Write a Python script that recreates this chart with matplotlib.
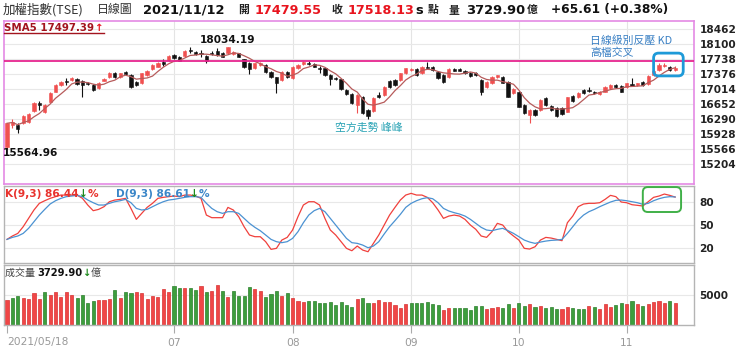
import matplotlib
matplotlib.use('Agg')
import matplotlib.pyplot as plt
import numpy as np
import pandas as pd
from matplotlib.patches import FancyBboxPatch
from matplotlib.transforms import IdentityTransform

# ==== daily TAIEX, 2021/05/18 - 2021/11/12 (125 sessions)
opens = [15624, 16147, 16147, 16187, 16227, 16493, 16669, 16468, 16710, 16951,
         17112, 17216, 17232, 17248, 17216, 17168, 17112, 17031, 17216, 17297,
         17393, 17297, 17433, 17353, 17192, 17152, 17353, 17489, 17554, 17674,
         17715, 17835, 17795, 17811, 17956, 17916, 17891, 17811, 17891, 17940,
         17891, 17875, 17859, 17875, 17731, 17650, 17514, 17594, 17594, 17433,
         17297, 17232, 17433, 17273, 17514, 17618, 17650, 17618, 17522, 17514,
         17353, 17288, 17248, 16991, 16895, 16629, 16830, 16509, 16492, 16870,
         16870, 17208, 17232, 17232, 17393, 17473, 17489, 17393, 17553, 17553,
         17433, 17352, 17312, 17489, 17489, 17457, 17409, 17393, 17232, 17071,
         17151, 17312, 17312, 17192, 16910, 16950, 16629, 16388, 16508, 16508,
         16790, 16605, 16565, 16549, 16468, 16846, 16814, 16991, 16991, 16942,
         16894, 16950, 17031, 17111, 17087, 17071, 17127, 17111, 17192, 17135,
         17352, 17473, 17569, 17553, 17479.55]
closes = [16187, 16227, 16042, 16364, 16412, 16669, 16630, 16630, 16911, 17112,
          17192, 17176, 17289, 17136, 17112, 17128, 16991, 17168, 17256, 17409,
          17313, 17393, 17369, 17071, 17112, 17393, 17457, 17594, 17634, 17618,
          17811, 17755, 17699, 17931, 17924, 17859, 17859, 17699, 17851, 17835,
          17795, 18020, 17916, 17795, 17554, 17489, 17634, 17650, 17433, 17313,
          17152, 17433, 17297, 17538, 17594, 17674, 17618, 17554, 17489, 17353,
          17248, 17256, 17007, 16895, 16669, 16870, 16428, 16364, 16790, 16830,
          17071, 17071, 17111, 17393, 17513, 17497, 17352, 17553, 17529, 17473,
          17272, 17192, 17489, 17457, 17457, 17393, 17328, 17360, 16950, 17192,
          17296, 17344, 17167, 16830, 17007, 16589, 16428, 16508, 16388, 16749,
          16629, 16508, 16363, 16404, 16814, 16733, 16926, 16910, 16958, 16910,
          16950, 17071, 17111, 17071, 16950, 17151, 17095, 17151, 17111, 17328,
          17457, 17593, 17593, 17473, 17518.13]
highs = [16200, 16290, 16200, 16390, 16440, 16690, 16735, 16660, 16930, 17130,
         17210, 17270, 17310, 17270, 17240, 17190, 17130, 17190, 17290, 17430,
         17420, 17410, 17460, 17370, 17210, 17410, 17480, 17610, 17660, 17730,
         17830, 17860, 17810, 17950, 18030, 17940, 17956, 17830, 17930, 17996,
         17910, 18034.19, 17930, 17890, 17750, 17670, 17650, 17670, 17610, 17450,
         17310, 17450, 17450, 17560, 17610, 17690, 17690, 17640, 17560, 17530,
         17370, 17300, 17260, 17010, 16910, 16890, 16850, 16520, 16810, 16950,
         17090, 17230, 17250, 17410, 17530, 17520, 17510, 17570, 17674, 17570,
         17450, 17370, 17510, 17510, 17510, 17480, 17430, 17420, 17250, 17210,
         17320, 17360, 17330, 17210, 17030, 16970, 16650, 16530, 16530, 16770,
         16810, 16620, 16580, 16570, 16830, 16860, 16950, 17010, 17071, 16960,
         16970, 17090, 17130, 17130, 17100, 17170, 17272, 17170, 17210, 17350,
         17480, 17640, 17630, 17570, 17570]
lows = [15564.96, 16070, 15960, 16160, 16200, 16470, 16510, 16440, 16690, 16930,
        17090, 17110, 17210, 17110, 16815, 17100, 16960, 17010, 17200, 17280,
        17290, 17280, 17350, 17040, 17090, 17130, 17330, 17470, 17540, 17570,
        17700, 17730, 17680, 17790, 17875, 17840, 17795, 17634, 17830, 17810,
        17775, 17860, 17840, 17780, 17530, 17377, 17500, 17580, 17410, 17290,
        16911, 17210, 17280, 17250, 17500, 17600, 17600, 17540, 17400, 17330,
        17112, 17230, 16990, 16880, 16650, 16445, 16400, 16300, 16470, 16790,
        16850, 17050, 17090, 17210, 17370, 17450, 17330, 17370, 17510, 17450,
        17250, 17170, 17290, 17440, 17440, 17370, 17310, 17330, 16870, 17050,
        17130, 17290, 17150, 16810, 16890, 16570, 16410, 16187, 16370, 16490,
        16610, 16490, 16340, 16380, 16450, 16710, 16800, 16890, 16940, 16890,
        16880, 16930, 17010, 17050, 16930, 17050, 17080, 17090, 17090, 17110,
        17330, 17450, 17550, 17450, 17460]

# KD(9,3)
k_vals = [31.3, 35.7, 39.1, 47.8, 58.7, 69.6, 78.3, 81.7, 84.8, 87,
          89.1, 89, 89, 89, 84.8, 76, 68.7, 70.4, 73.9, 80.4,
          82.6, 83.5, 84.8, 71.7, 57.4, 65.2, 73, 78.3, 84.8, 86.1,
          87, 87.8, 87, 89.1, 89.1, 87.8, 84.8, 63, 59.6, 59.6,
          59.6, 73, 69.6, 60.9, 47.8, 37, 34.8, 34.8, 28.3, 18.3,
          19.6, 30.4, 33.9, 43.5, 60.9, 76.1, 80.4, 80.4, 76.1, 58.7,
          43.5, 37, 28.3, 19.6, 16.5, 22.6, 17.4, 15.2, 26.1, 37,
          50, 63, 73, 82.6, 89.1, 91.3, 89.1, 89.1, 86.1, 79.1,
          69.6, 58.7, 61.7, 63, 61.7, 57.4, 50, 44.4, 35.7, 33.9,
          41.3, 52.2, 50, 41.3, 35.7, 30.4, 19.6, 18.7, 21.7, 30.4,
          33.9, 33, 31.3, 29.6, 53, 61.7, 73.9, 77.4, 78.3, 78.3,
          79.1, 83.5, 88.7, 87, 80, 79.1, 76.5, 75.7, 74.8, 80.4,
          86.1, 87.8, 90.4, 88.7, 86.44]
d_vals = [31.3, 33.9, 35.7, 39.1, 45.7, 54.3, 63, 70.4, 77.4, 81.7,
          84.8, 87, 87.8, 88.7, 87, 82.6, 79.1, 76.1, 76.1, 78.3,
          80.4, 81.7, 83.5, 79.1, 71.7, 69.6, 70.4, 73.9, 77.4, 80.4,
          82.6, 83.5, 84.8, 86.1, 87, 87, 86.1, 78.3, 71.7, 67.4,
          65.2, 67.4, 67.4, 65.2, 58.7, 52.2, 47, 42.6, 37, 31.3,
          28.3, 27, 28.3, 32.6, 41.3, 53, 63, 68.7, 71.7, 67.4,
          58.7, 50, 41.3, 32.6, 27, 26.1, 23.9, 20.4, 22.6, 28.3,
          38.3, 47.8, 55.7, 63.9, 73, 78.3, 81.7, 84.3, 85.7, 84.3,
          79.1, 71.7, 68.3, 66.1, 64.3, 61.7, 57.4, 52.2, 47, 43.5,
          42.6, 44.4, 45.7, 42.6, 39.1, 34.8, 30.4, 27.8, 26.1, 27.8,
          29.1, 30, 30.4, 31.3, 39.1, 47.8, 56.5, 63, 67.4, 70.4,
          73.9, 77, 80, 82.2, 82.6, 81.7, 80.4, 79.1, 77, 78.3,
          81.7, 84.3, 86.1, 87, 86.61]

# turnover (100 million NTD) and whether the close was up
volumes = [4168, 4446, 4890, 4446, 4334, 5390, 4334, 5446, 5001, 5446,
           4723, 5446, 5001, 4446, 5001, 3612, 4057, 4168, 4168, 4334,
           5835, 4557, 5446, 5279, 5557, 5390, 4334, 4890, 4612, 6001,
           5446, 6501, 6112, 6112, 6112, 5835, 6501, 5557, 5668, 6668,
           5724, 4723, 5724, 4834, 4834, 6279, 5946, 5724, 4723, 5168,
           5668, 4834, 5390, 4446, 4001, 3890, 4001, 4057, 3612, 3612,
           3890, 3334, 3890, 3334, 3056, 4279, 4446, 3612, 3723, 4168,
           3779, 3834, 3334, 2778, 3501, 3723, 3723, 3723, 3890, 3445,
           3334, 2500, 2778, 2778, 2778, 2778, 2500, 3167, 3167, 2612,
           2889, 3056, 2778, 3501, 2889, 3612, 3167, 3445, 2945, 3167,
           2889, 2945, 2723, 2723, 2945, 2834, 2723, 2723, 3223, 3001,
           2667, 3445, 3056, 3334, 3612, 3501, 4001, 3445, 3223, 3445,
           3834, 4057, 3612, 4057, 3729.90]
vol_up = [1, 0, 0, 1, 1, 1, 1, 0, 1, 1,
          1, 1, 1, 0, 0, 0, 0, 1, 1, 1,
          0, 1, 0, 0, 1, 1, 1, 1, 1, 1,
          1, 0, 0, 1, 0, 0, 1, 0, 1, 1,
          0, 1, 0, 0, 0, 0, 1, 1, 0, 0,
          0, 1, 0, 1, 1, 1, 0, 0, 0, 0,
          0, 0, 0, 0, 0, 1, 0, 0, 1, 1,
          1, 1, 1, 1, 1, 0, 0, 0, 0, 0,
          0, 1, 1, 0, 0, 0, 0, 0, 0, 1,
          1, 1, 0, 0, 1, 0, 0, 1, 0, 1,
          0, 0, 0, 1, 1, 0, 0, 0, 1, 0,
          1, 1, 1, 0, 0, 1, 0, 1, 0, 1,
          1, 1, 1, 0, 1]

month_idx = [0, 31, 53, 75, 95, 115]
month_labels = ['2021/05/18', '07', '08', '09', '10', '11']
price_ticks = [18462, 18100, 17738, 17376, 17014, 16652, 16290, 15928, 15566, 15204]
kd_ticks = [20, 50, 80]
vol_ticks = [5000]
resistance = 17690

# ==== figure, laid out in pixels
W, H = 740, 347
plt.rcParams['font.family'] = ['DejaVu Sans', 'Noto Sans CJK TC']
CJK = ['Noto Sans CJK TC', 'DejaVu Sans']
RED = '#e8141e'
fig = plt.figure(figsize=(W / 100, H / 100), dpi=100)
fig.patch.set_facecolor('white')


def px_axes(x0, y0, x1, y1):
    return fig.add_axes([x0 / W, 1 - y1 / H, (x1 - x0) / W, (y1 - y0) / H])


ax_p = px_axes(4, 21, 694, 184)
ax_k = px_axes(4, 186, 694, 263)
ax_v = px_axes(4, 265, 694, 325)

idx = np.arange(len(closes))
o = np.array(opens)
c = np.array(closes)
for ax in (ax_p, ax_k, ax_v):
    ax.set_xlim(-0.56, 127.5)
    ax.set_facecolor('white')
    for m in month_idx[1:]:
        ax.axvline(m, color='#e4e4e4', lw=0.8, zorder=0)
    ax.yaxis.tick_right()
    ax.tick_params(axis='y', length=0, pad=4, labelsize=7.6, labelcolor='#222')
    for s in ax.spines.values():
        s.set_color('#b4b4b4')
        s.set_linewidth(1.0)

# --- price panel
ax_p.set_ylim(14722, 18655)
for t in price_ticks:
    ax_p.axhline(t, color='#e8e8e8', lw=0.8, zorder=0)
up = c >= o
col = np.where(up, '#f05050', '#111111')
ax_p.vlines(idx, lows, highs, colors=col, lw=0.8, zorder=2)
body_h = np.maximum(np.abs(c - o), 14)
ax_p.bar(idx, body_h, bottom=np.minimum(o, c), width=0.6, color=col,
         edgecolor=col, lw=0.4, zorder=2)
sma5 = pd.Series(closes).rolling(5, min_periods=1).mean()
ax_p.plot(idx, sma5, color='#b75b5b', lw=0.9, zorder=3)
ax_p.axhline(resistance, color='#e6258f', lw=1.3, zorder=4)
ax_p.set_xticks([])
ax_p.set_yticks(price_ticks)
ax_p.set_yticklabels([str(t) for t in price_ticks], fontweight='bold')
for s in ax_p.spines.values():
    s.set_color('#e48ae4')
    s.set_linewidth(1.2)

# --- KD panel
ax_k.set_ylim(0.5, 100.9)
for t in kd_ticks:
    ax_k.axhline(t, color='#e8e8e8', lw=0.8, zorder=0)
ax_k.plot(idx, k_vals, color='#f0403c', lw=0.9)
ax_k.plot(idx, d_vals, color='#4b92d2', lw=0.9)
ax_k.set_xticks([])
ax_k.set_yticks(kd_ticks)
ax_k.set_yticklabels([str(t) for t in kd_ticks], fontweight='bold')

# --- volume panel
ax_v.set_ylim(0, 10000)
for t in vol_ticks:
    ax_v.axhline(t, color='#e8e8e8', lw=0.8, zorder=0)
vcol = ['#f04646' if u else '#3d9e3d' for u in vol_up]
vedge = ['#d83232' if u else '#2c7f2c' for u in vol_up]
ax_v.bar(idx, volumes, width=0.58, color=vcol, edgecolor=vedge, lw=0.5, zorder=2)
ax_v.set_yticks(vol_ticks)
ax_v.set_yticklabels([str(t) for t in vol_ticks], fontweight='bold')
ax_v.set_xticks(month_idx)
ax_v.set_xticklabels(month_labels)
ax_v.tick_params(axis='x', length=6, color='#aaaaaa', labelsize=7.7,
                 labelcolor='#999999', pad=3)
ax_v.get_xticklabels()[0].set_ha('left')

# ==== texts
renderer = fig.canvas.get_renderer()


def chain(x, y, pieces):
    # put text pieces one after another, starting at pixel x
    for s, kw in pieces:
        t = fig.text(x / W, 1 - y / H, s, va='center', ha='left', **kw)
        x += t.get_window_extent(renderer).width
    return x


norm = dict(family=CJK, fontsize=9.0, color='#333333')
cjk_b = dict(family=CJK, fontsize=7.8, fontweight='bold', color='#222222')
num_b = dict(fontsize=9.4, fontweight='bold', color='#111111')
red_b = dict(fontsize=9.2, fontweight='bold', color=RED)

chain(3, 10, [('加權指數(TSE)', norm)])
chain(97, 10, [('日線圖', dict(norm, fontsize=8.6))])
chain(143, 10, [('2021/11/12', num_b)])
chain(238, 10, [('開', cjk_b)])
chain(255, 10, [('17479.55', red_b)])
chain(332, 10, [('收', cjk_b)])
chain(348, 10, [('17518.13', red_b)])
chain(416, 10, [('s ', num_b), ('點', cjk_b)])
chain(449, 10, [('量', cjk_b)])
chain(466, 10, [('3729.90', num_b)])
chain(527, 10, [('億', cjk_b)])
chain(551, 10, [('+65.61 (+0.38%)', dict(num_b, fontsize=8.8))])

# SMA5 label with underline
x_end = chain(4, 28, [('SMA5 17497.39', dict(fontsize=7.4, fontweight='bold', color='#a3141e')),
                      ('↑', dict(fontsize=7.4, fontweight='bold', color=RED))])
fig.add_artist(plt.Line2D([4 / W, (x_end + 1) / W], [1 - 33 / H, 1 - 33 / H],
                          color='#a3141e', lw=1))

# high / low marks
ax_p.annotate(f'{max(highs):.2f}', (int(np.argmax(highs)), max(highs)),
              xytext=(0, 1.5), textcoords='offset points', ha='center', va='bottom',
              fontsize=7.6, fontweight='bold', color='#111')
ax_p.annotate(f'{min(lows):.2f}', (int(np.argmin(lows)), min(lows)),
              xytext=(-3, 1), textcoords='offset points', ha='left', va='top',
              fontsize=7.6, fontweight='bold', color='#111')

# KD legend
kd_b = dict(fontsize=7.6, fontweight='bold')
chain(5, 194, [('K(9,3) 86.44', dict(kd_b, color='#e8322d')),
               ('↓', dict(kd_b, color='#1e8a1e')),
               ('%', dict(kd_b, color='#e8322d'))])
chain(116, 194, [('D(9,3) 86.61', dict(kd_b, color='#3a86c8')),
                 ('↓', dict(kd_b, color='#1e8a1e')),
                 ('%', dict(kd_b, color='#3a86c8'))])

# volume legend
chain(5, 273, [('成交量 ', dict(family=CJK, fontsize=7.2, color='#444')),
               ('3729.90', dict(fontsize=7.2, fontweight='bold', color='#111')),
               ('↓', dict(fontsize=7.2, fontweight='bold', color='#1e8a1e')),
               ('億', dict(family=CJK, fontsize=7.2, color='#444'))])

# comments drawn on the chart
fig.text(335 / W, 1 - 128 / H, '空方走勢 峰峰', family=CJK, fontsize=7.8,
         color='#2aa3b5', va='center')
fig.text(590 / W, 1 - 41 / H, '日線級別反壓 KD', family=CJK, fontsize=7.8,
         color='#3a80c4', va='center')
fig.text(590 / W, 1 - 53 / H, '高檔交叉', family=CJK, fontsize=7.8,
         color='#3a80c4', va='center')


def round_box(ax, x0, x1, y0, y1, color, lw):
    # rounded frame in pixels around a data region
    (a, b), (cc, d) = ax.transData.transform([(x0, y0), (x1, y1)])
    fig.add_artist(FancyBboxPatch((a, b), cc - a, d - b,
                                  boxstyle='round,pad=0,rounding_size=5',
                                  transform=IdentityTransform(), fill=False,
                                  ec=color, lw=lw, zorder=10))


round_box(ax_p, 120.0, 125.5, 17330, 17880, '#1e9ad8', 2.0)
round_box(ax_k, 118.0, 125.1, 67, 99.5, '#40b048', 1.4)

fig.savefig('out.png', dpi=100, facecolor='white')
